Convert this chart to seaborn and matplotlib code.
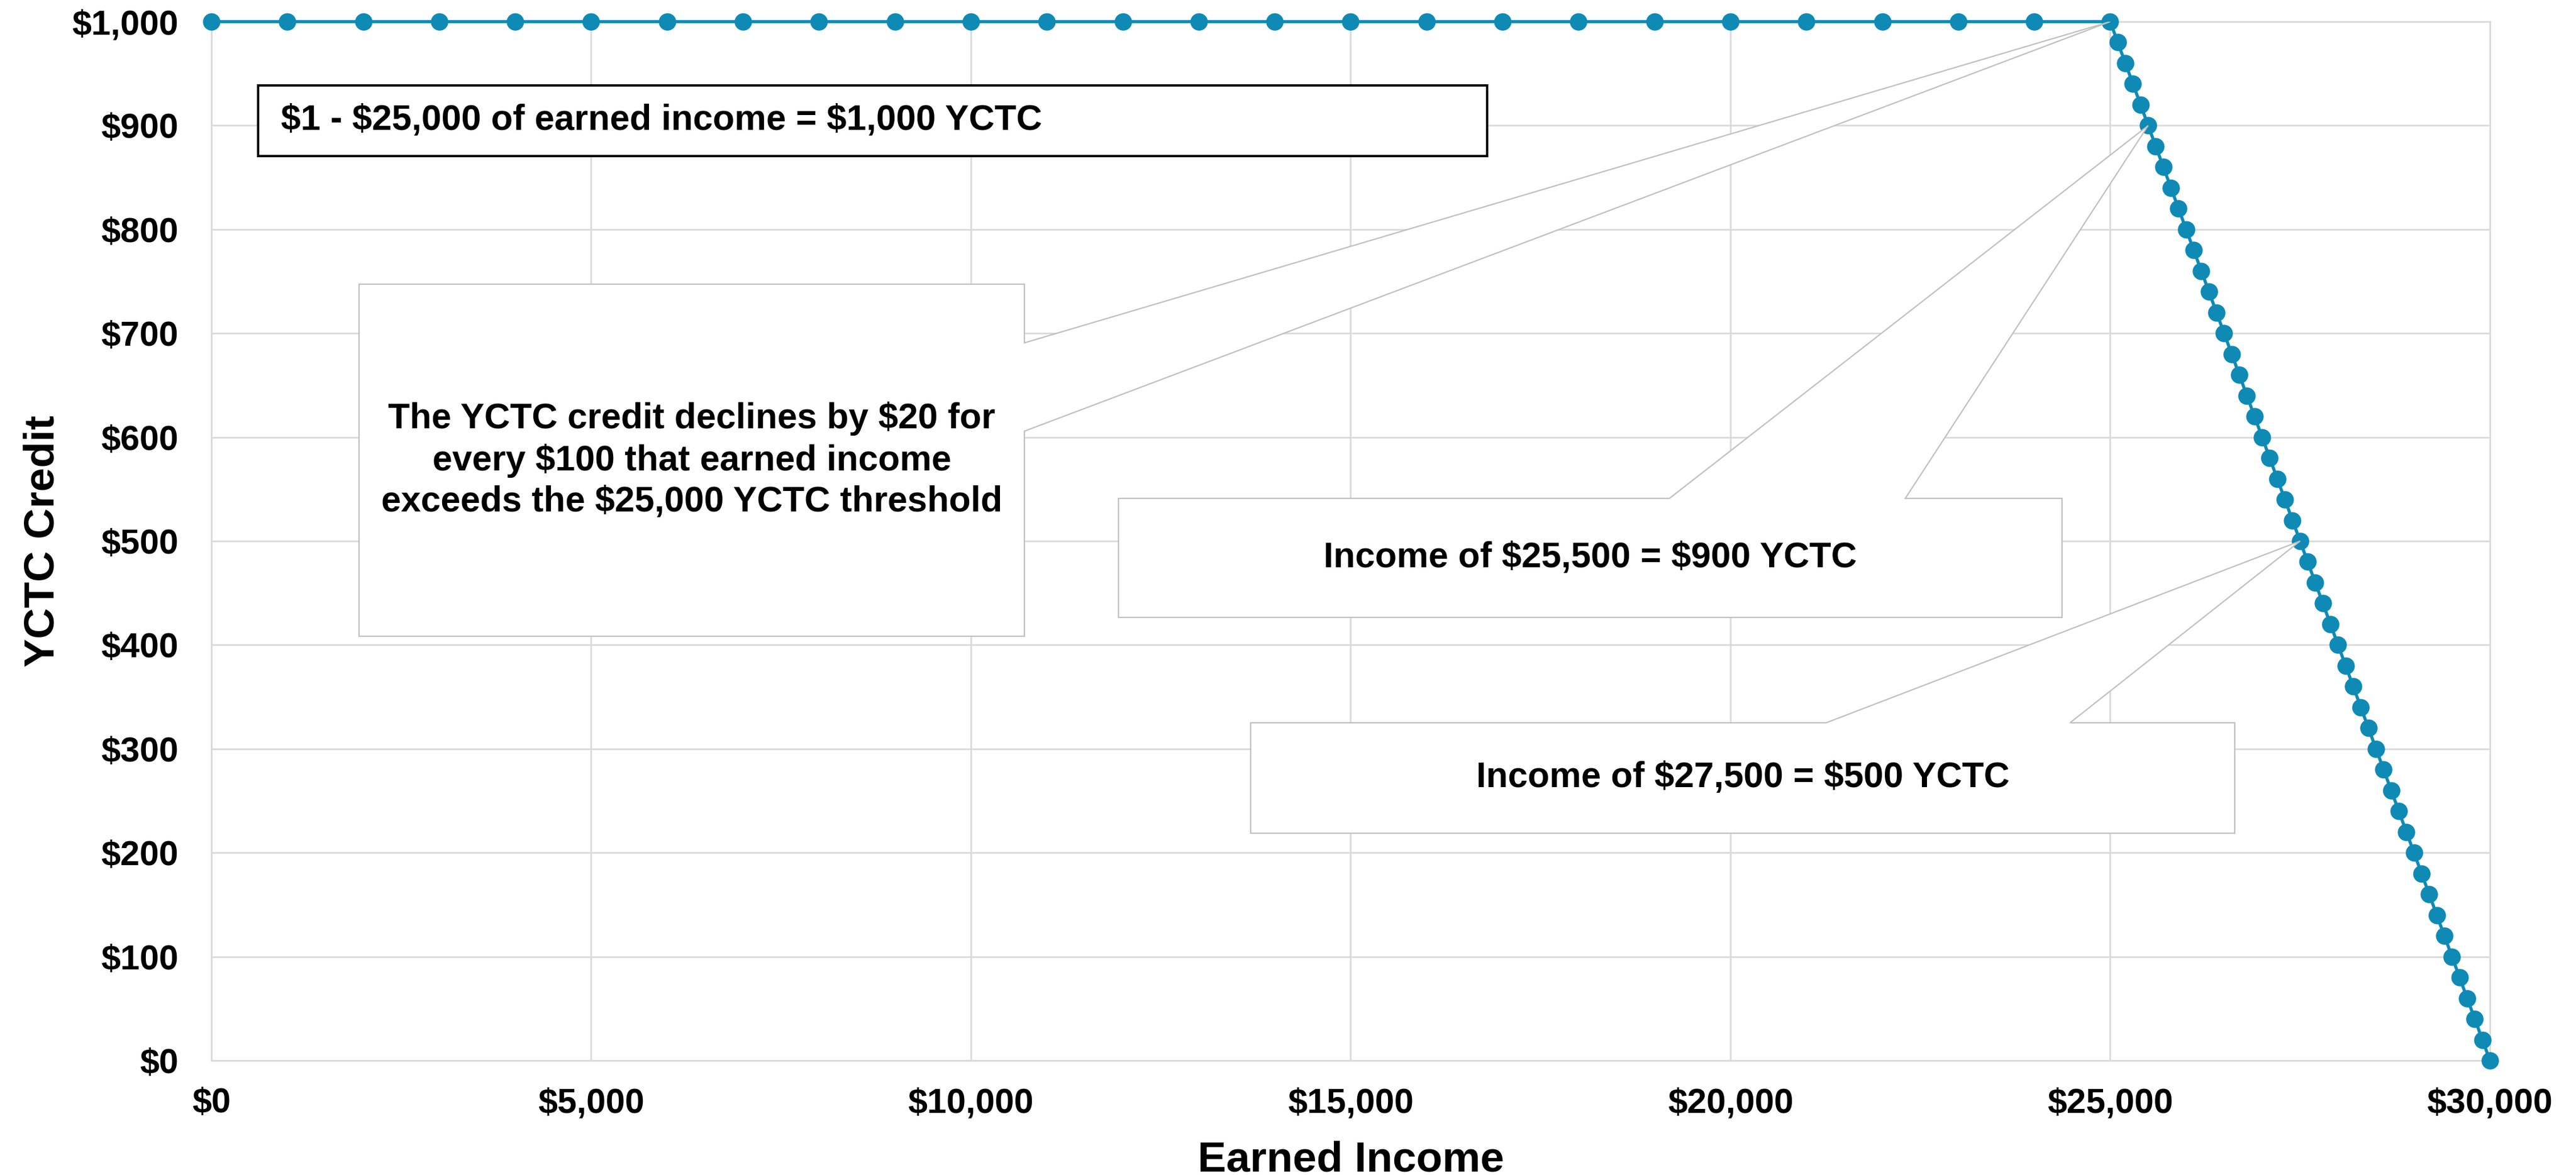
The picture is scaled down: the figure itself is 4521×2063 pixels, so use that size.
import matplotlib
matplotlib.use("Agg")
import matplotlib.pyplot as plt
from matplotlib.patches import Polygon, Rectangle
from matplotlib.ticker import FuncFormatter, MultipleLocator
import pandas as pd
import seaborn as sns

# data
income = [0, 1000, 2000, 3000, 4000, 5000, 6000, 7000, 8000, 9000,
          10000, 11000, 12000, 13000, 14000, 15000, 16000, 17000, 18000, 19000,
          20000, 21000, 22000, 23000, 24000, 25000,
          25100, 25200, 25300, 25400, 25500, 25600, 25700, 25800, 25900, 26000,
          26100, 26200, 26300, 26400, 26500, 26600, 26700, 26800, 26900, 27000,
          27100, 27200, 27300, 27400, 27500, 27600, 27700, 27800, 27900, 28000,
          28100, 28200, 28300, 28400, 28500, 28600, 28700, 28800, 28900, 29000,
          29100, 29200, 29300, 29400, 29500, 29600, 29700, 29800, 29900, 30000]
credit = [1000, 1000, 1000, 1000, 1000, 1000, 1000, 1000, 1000, 1000,
          1000, 1000, 1000, 1000, 1000, 1000, 1000, 1000, 1000, 1000,
          1000, 1000, 1000, 1000, 1000, 1000,
          980, 960, 940, 920, 900, 880, 860, 840, 820, 800,
          780, 760, 740, 720, 700, 680, 660, 640, 620, 600,
          580, 560, 540, 520, 500, 480, 460, 440, 420, 400,
          380, 360, 340, 320, 300, 280, 260, 240, 220, 200,
          180, 160, 140, 120, 100, 80, 60, 40, 20, 0]

note_top = "$1 - $25,000 of earned income = $1,000 YCTC"
note_slope = ("The YCTC credit declines by $20 for\n"
              "every $100 that earned income\n"
              "exceeds the $25,000 YCTC threshold")
note_a = "Income of $25,500 = $900 YCTC"
note_b = "Income of $27,500 = $500 YCTC"
tip_slope = (25000, 1000)
tip_a = (25500, 900)
tip_b = (27500, 500)

df = pd.DataFrame({"Earned Income": income, "YCTC Credit": credit})

sns.set_style("whitegrid")
plt.rcParams["font.family"] = ["Liberation Sans", "DejaVu Sans"]
plt.rcParams["font.weight"] = "bold"
plt.rcParams["text.parse_math"] = False
plt.rcParams["text.color"] = "black"
plt.rcParams["axes.labelcolor"] = "black"
plt.rcParams["xtick.color"] = "black"
plt.rcParams["ytick.color"] = "black"

line_color = "#0E8AB5"
grid_color = "#D9D9D9"
box_edge = "#BFBFBF"

fig = plt.figure(figsize=(22.605, 10.315), dpi=200)
ax = fig.add_axes([0.08206, 0.09743, 0.88454, 0.88415])

sns.lineplot(data=df, x="Earned Income", y="YCTC Credit", ax=ax,
             color=line_color, linewidth=2.0, marker="o", markersize=11,
             markeredgewidth=0, clip_on=False, zorder=3)

ax.set_xlim(0, 30000)
ax.set_ylim(0, 1000)
ax.xaxis.set_major_locator(MultipleLocator(5000))
ax.yaxis.set_major_locator(MultipleLocator(100))
money = FuncFormatter(lambda v, p: f"${v:,.0f}")
ax.xaxis.set_major_formatter(money)
ax.yaxis.set_major_formatter(money)
ax.tick_params(axis="both", length=0, labelsize=22, labelcolor="black")
ax.tick_params(axis="x", pad=17)
ax.tick_params(axis="y", pad=21)
for lab in ax.get_xticklabels() + ax.get_yticklabels():
    lab.set_fontweight("bold")

ax.grid(True, color=grid_color, linewidth=1.0)
for s in ax.spines.values():
    s.set_color(grid_color)
    s.set_linewidth(1.0)

ax.set_xlabel("Earned Income", fontsize=27, fontweight="bold", color="black")
ax.set_ylabel("YCTC Credit", fontsize=27, fontweight="bold", color="black")
ax.xaxis.set_label_coords(0.5, -0.0768)
ax.yaxis.set_label_coords(-0.0655, 0.5)


def to_axes(pt):
    return ax.transAxes.inverted().transform(ax.transData.transform(pt))


# plain text box at the top
ax.add_patch(Rectangle((0.0205, 0.8706), 0.5394, 0.068, transform=ax.transAxes,
                       facecolor="white", edgecolor="black", linewidth=1.5,
                       zorder=4))
ax.text(0.0305, 0.905, note_top, transform=ax.transAxes, ha="left",
        va="center", fontsize=22.5, fontweight="bold", color="black", zorder=5)

# callout with the pointer on the right edge
x0, x1, y0, y1 = 0.0648, 0.3568, 0.4084, 0.7473
tx, ty = to_axes(tip_slope)
ax.add_patch(Polygon([(x0, y1), (x1, y1), (x1, 0.6908), (tx, ty),
                      (x1, 0.6058), (x1, y0), (x0, y0)], closed=True,
                     transform=ax.transAxes, facecolor="white",
                     edgecolor=box_edge, linewidth=0.8, zorder=4))
ax.text((x0 + x1) / 2, (y0 + y1) / 2, note_slope, transform=ax.transAxes,
        ha="center", va="center", multialignment="center", fontsize=22.5,
        fontweight="bold", color="black", linespacing=1.3, zorder=5)

# callouts with the pointer on the top edge
for (x0, x1, y0, y1, wa, wb), tip, txt in [
        ((0.3981, 0.8122, 0.4265, 0.5411, 0.6399, 0.7434), tip_a, note_a),
        ((0.4561, 0.8880, 0.2188, 0.3251, 0.7087, 0.8157), tip_b, note_b)]:
    tx, ty = to_axes(tip)
    ax.add_patch(Polygon([(x0, y0), (x0, y1), (wa, y1), (tx, ty), (wb, y1),
                          (x1, y1), (x1, y0)], closed=True,
                         transform=ax.transAxes, facecolor="white",
                         edgecolor=box_edge, linewidth=0.8, zorder=4))
    ax.text((x0 + x1) / 2, (y0 + y1) / 2, txt, transform=ax.transAxes,
            ha="center", va="center", fontsize=22.5, fontweight="bold",
            color="black", zorder=5)

fig.savefig("out.png", dpi=200)
